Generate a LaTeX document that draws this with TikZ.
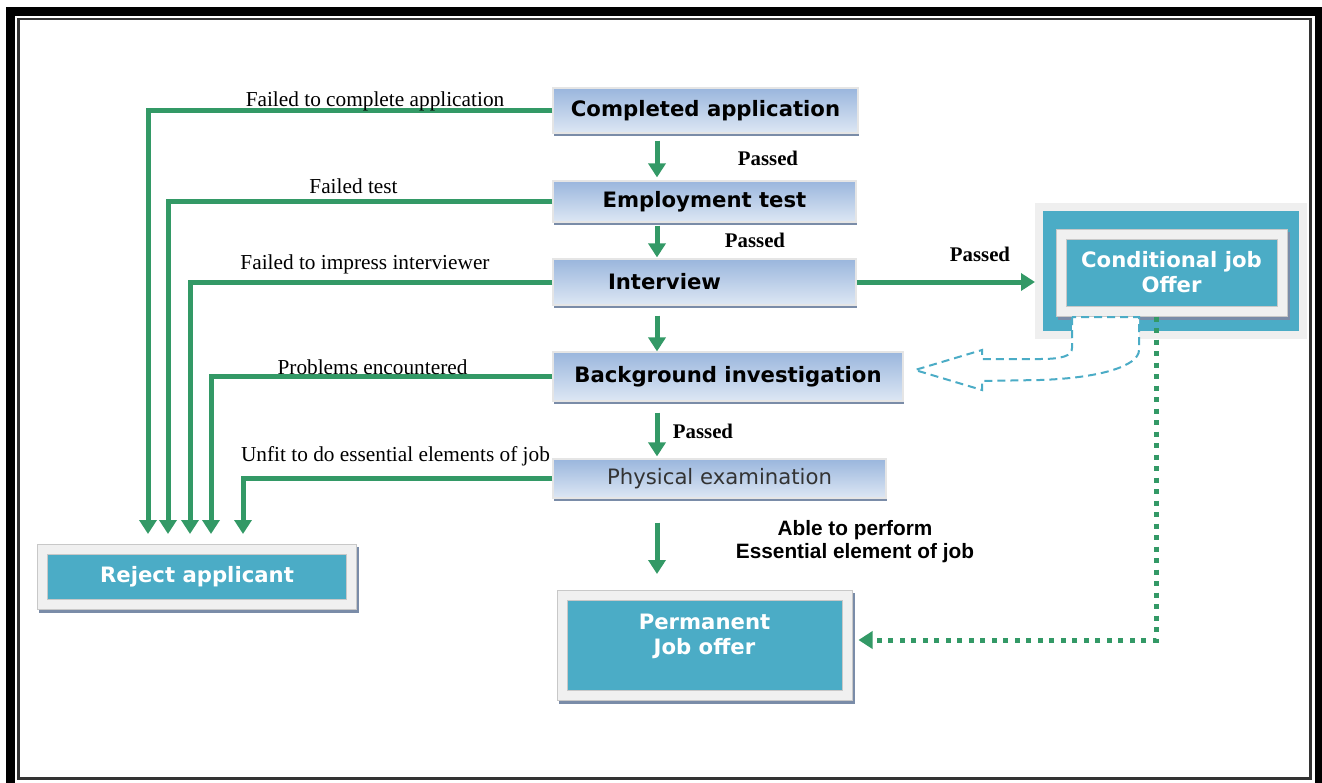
\documentclass[tikz,border=0pt]{standalone}
\usepackage{fontspec}
\setmainfont{Liberation Serif}
\setsansfont{DejaVu Sans}
\newfontfamily\arialfont{Liberation Sans}
\usetikzlibrary{arrows.meta,positioning,calc,shadows}
\definecolor{Flow}{HTML}{339966}
\definecolor{Teal}{HTML}{4BACC6}
\definecolor{StageTop}{HTML}{9AB6DD}
\definecolor{StageBottom}{HTML}{DDE7F4}
\definecolor{StageShadow}{HTML}{7A8CA8}
\definecolor{Frame}{HTML}{F0F0F0}
\definecolor{FrameEdge}{HTML}{C8C8C8}
\definecolor{Backdrop}{HTML}{EFEFEF}
\definecolor{Ink}{HTML}{333333}

\begin{document}
\begin{tikzpicture}[
    x=1pt, y=-1pt,
    stage/.style={
        draw=white!80!gray,
        line width=1.2pt,
        top color=StageTop,
        bottom color=StageBottom,
        general shadow={fill=StageShadow, shadow xshift=1pt, shadow yshift=-3pt},
        font=\sffamily\bfseries\fontsize{21.2}{24}\selectfont,
        inner sep=0pt
    },
    outcome/.style={
        draw=FrameEdge,
        line width=11pt,
        fill=Teal,
        postaction={draw=Frame, line width=9pt},
        general shadow={draw=StageShadow, fill=StageShadow, shadow xshift=2pt, shadow yshift=-3pt},
        text=white,
        align=center,
        font=\sffamily\bfseries\fontsize{21.2}{25}\selectfont,
        inner sep=0pt
    },
    flow/.style={
        -{Triangle[width=17pt,length=14pt]},
        line width=5pt,
        draw=Flow
    },
    dotflow/.style={
        -{Triangle[width=17pt,length=14pt]},
        line width=5pt,
        draw=Flow,
        dash pattern=on 5pt off 6.5pt
    },
    hollow/.style={
        draw=Teal,
        line width=2pt,
        dash pattern=on 8pt off 5pt,
        fill=white
    },
    failtext/.style={
        font=\fontsize{21.3}{24}\selectfont
    },
    passtext/.style={
        font=\bfseries\fontsize{20.8}{24}\selectfont
    }
]

\useasboundingbox (0,0) rectangle (1322,782);

% Frame
\draw[line width=9pt] (10,11.5) rectangle (1319,787);
\draw[Ink, line width=2.5pt] (18.5,19) rectangle (1310.5,778.5);

% Stages
\node[stage, minimum width=305, minimum height=45] (app) at (705.5,110.5) {Completed application};
\node[stage, minimum width=303, minimum height=41] (test) at (704.5,201.5) {Employment test};
\node[stage, minimum width=303, minimum height=46] (iv) at (704.5,282) {\hspace*{-80pt}Interview};
\node[stage, minimum width=350, minimum height=49] (bg) at (728,376.5) {Background investigation};
\node[stage, minimum width=333, minimum height=39, font=\sffamily\fontsize{21.2}{24}\selectfont, text=Ink] (phys) at (719.5,478.5) {Physical examination};

% Outcomes
\node[outcome, minimum width=309, minimum height=55] (reject) at (197,576.5) {Reject applicant};
\node[outcome, minimum width=285, minimum height=100] (perm) at (704.5,645.5) {Permanent\\Job offer\\[-3pt]};
\node[draw=Backdrop, line width=8pt, fill=Teal, minimum width=264, minimum height=128, inner sep=0pt] (condback) at (1171,270.5) {};
\node[outcome, minimum width=221, minimum height=77] (cond) at (1171.5,272.5) {Conditional job\\Offer};

% Passed
\coordinate (col) at (657,0);
\draw[flow, shorten <=7pt, shorten >=3pt] (app.south -| col) -- (test.north -| col);
\draw[flow, shorten <=3pt, shorten >=1pt] (test.south -| col) -- (iv.north -| col);
\draw[flow, shorten <=10pt] (iv.south -| col) -- (bg.north -| col);
\draw[flow, shorten <=11pt, shorten >=2pt] (bg.south -| col) -- (phys.north -| col);
\draw[flow, shorten <=24pt, shorten >=16pt] (phys.south -| col) -- (perm.north -| col);
\draw[flow] (iv.east) -- (iv.east -| condback.west);

\node[passtext] (pass1) at (768,158) {Passed};
\node[passtext] (pass2) at (755,240) {Passed};
\node[passtext] (pass3) at (980,254) {Passed};
\node[passtext] (pass4) at (703,431) {Passed};
\node[font=\arialfont\bfseries\fontsize{20.8}{23}\selectfont, align=center] (able) at (855,541.5)
{Able to perform\\Essential element of job};

% Failures
\draw[flow, shorten >=9.5pt] (app.west) -| ([xshift=-49pt]reject.north);
\draw[flow, shorten >=9.5pt] (test.west) -| ([xshift=-29pt]reject.north);
\draw[flow, shorten >=9.5pt] (iv.west) -| ([xshift=-7pt]reject.north);
\draw[flow, shorten >=9.5pt] (bg.west) -| ([xshift=14pt]reject.north);
\draw[flow, shorten >=9.5pt] (phys.west) -| ([xshift=46pt]reject.north);

\node[failtext] (fail1) at (375,101) {Failed to complete application};
\node[failtext] (fail2) at (353.5,186) {Failed test};
\node[failtext] (fail3) at (365,264) {Failed to impress interviewer};
\node[failtext] (fail4) at (372.5,367) {Problems encountered};
\node[failtext] (fail5) at (395.5,456) {Unfit to do essential elements of job};

% Back to background investigation
\draw[hollow] (1072,317) -- (1072,348) .. controls (1072,356) and (1062,359) .. (1040,359)
    -- (982,359) -- (982,350) -- (915,370) -- (982,390) -- (982,381) -- (1040,380)
    .. controls (1100,378) and (1139,366) .. (1139,350) -- (1139,317) -- cycle;

% Conditional to permanent
\draw[dotflow] ([xshift=-15.5pt]cond.south) |- ([xshift=6pt,yshift=5.5pt]perm.east);

\end{tikzpicture}
\end{document}
